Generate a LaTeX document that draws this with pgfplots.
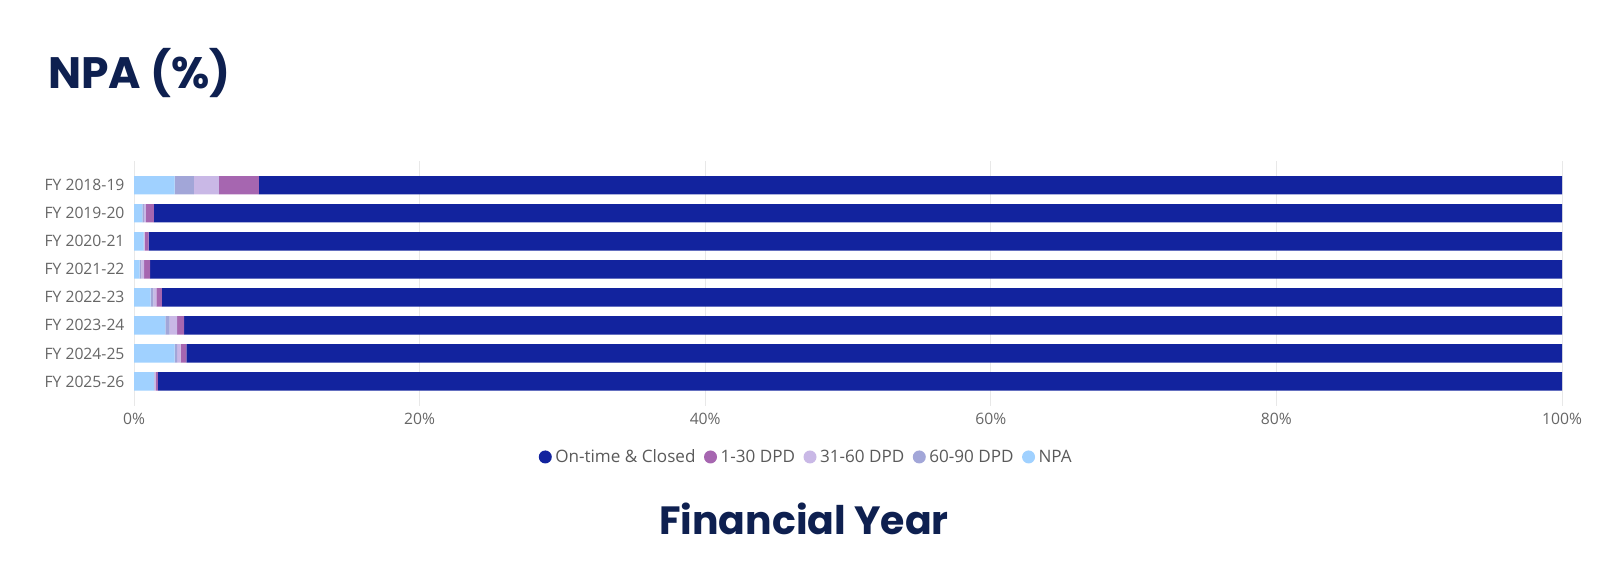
\documentclass[border=0pt]{standalone}
\usepackage{fontspec}
\setmainfont{Open Sans}
\newfontfamily\popfont{Poppins}
\usepackage{pgfplots}
\usepackage{pgfplotstable}
\pgfplotsset{compat=1.18}
\definecolor{ontime}{HTML}{12239E}
\definecolor{dpdA}{HTML}{A666B0}
\definecolor{dpdB}{HTML}{C9B8E6}
\definecolor{dpdC}{HTML}{A2A6D8}
\definecolor{npa}{HTML}{A0D1FF}
\definecolor{titlecol}{HTML}{0E2050}
\definecolor{ticktext}{HTML}{666666}
\definecolor{legtext}{HTML}{5A5A5A}
\definecolor{gridcol}{HTML}{E8E8E8}
\pgfplotstableread{
idx npa d6090 d3160 d130 ontime
0 2.85 1.35 1.75 2.80 91.25
1 0.59 0.10 0.14 0.56 98.61
2 0.67 0.03 0.05 0.28 98.97
3 0.40 0.12 0.19 0.42 98.87
4 1.16 0.19 0.21 0.40 98.04
5 2.20 0.30 0.52 0.49 96.49
6 2.85 0.17 0.25 0.40 96.33
7 1.40 0.03 0.10 0.14 98.33
}\datatable
\begin{document}
\begin{tikzpicture}[x=1pt,y=1pt]
\node[anchor=base west,inner sep=0pt,text=titlecol] at (48,480) {\popfont\bfseries\fontsize{44}{50}\selectfont NPA (\%)};
\node[anchor=base,inner sep=0pt,text=titlecol] at (804,34) {\popfont\bfseries\fontsize{39.4}{44}\selectfont Financial Year};
\begin{axis}[
  at={(134pt,163pt)}, anchor=south west,
  scale only axis, width=1428pt, height=245pt,
  xbar stacked, bar width=18.4pt,
  xmin=0, xmax=100,
  ymin=-0.866, ymax=7.877, y dir=reverse,
  ytick={0,...,7},
  yticklabels={FY 2018-19,FY 2019-20,FY 2020-21,FY 2021-22,FY 2022-23,FY 2023-24,FY 2024-25,FY 2025-26},
  xtick={0,20,40,60,80,100},
  xticklabels={0\%,20\%,40\%,60\%,80\%,100\%},
  xmajorgrids, major grid style={gridcol, line width=1pt},
  axis line style={draw=none},
  major tick length=0pt,
  tick label style={text=ticktext, font=\fontsize{15.7}{18}\selectfont},
  yticklabel style={xshift=-6pt},
  xticklabel style={yshift=-4pt},
  legend style={at={(axis description cs:0.4706,-0.208)}, anchor=center, draw=none, fill=none,
    legend columns=-1, font=\fontsize{17.1}{20}\selectfont, text=legtext,
    /tikz/every odd column/.append style={column sep=2pt},
    /tikz/every even column/.append style={column sep=7pt},
    nodes={inner sep=1.5pt}},
  legend image code/.code={\fill[#1] (3pt,0pt) circle (6.5pt);},
  reverse legend,
  every axis plot/.append style={draw=none},
]
\addplot[fill=npa] table[x=npa,y=idx] {\datatable};
\addplot[fill=dpdC] table[x=d6090,y=idx] {\datatable};
\addplot[fill=dpdB] table[x=d3160,y=idx] {\datatable};
\addplot[fill=dpdA] table[x=d130,y=idx] {\datatable};
\addplot[fill=ontime] table[x=ontime,y=idx] {\datatable};
\legend{NPA,60-90 DPD,31-60 DPD,1-30 DPD,On-time \& Closed}
\end{axis}
\pgfresetboundingbox
\path[use as bounding box] (0,0) rectangle (1603,569);
\end{tikzpicture}
\end{document}
